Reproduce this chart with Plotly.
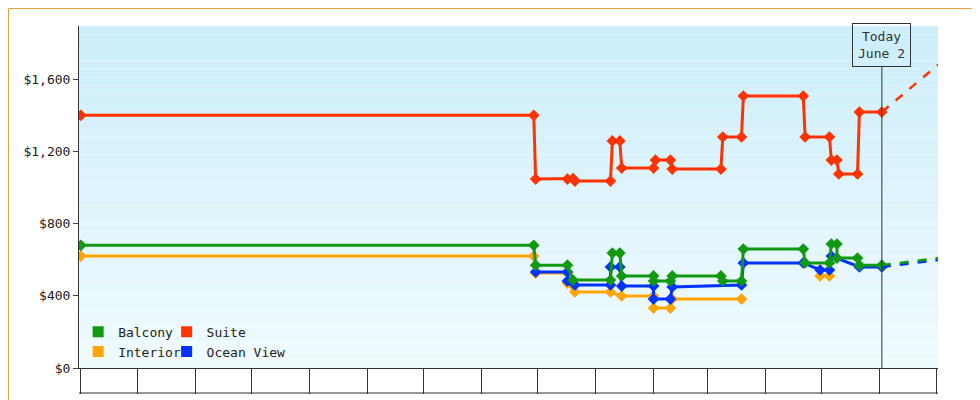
import plotly.graph_objects as go

suite_x = ["2023-04-01","2023-11-29","2023-11-30","2023-12-17","2023-12-20","2023-12-21","2024-01-09","2024-01-10","2024-01-14","2024-01-15","2024-02-01","2024-02-02","2024-02-10","2024-02-11","2024-03-08","2024-03-09","2024-03-19","2024-03-20","2024-04-21","2024-04-22","2024-05-05","2024-05-06","2024-05-09","2024-05-10","2024-05-20","2024-05-21","2024-06-02"]
suite_y = [1400,1400,1047,1047,1050,1036,1036,1258,1258,1108,1108,1152,1152,1102,1102,1280,1280,1507,1507,1280,1280,1152,1152,1075,1075,1418,1418]

balc_x = ["2023-04-01","2023-11-29","2023-11-30","2023-12-17","2023-12-20","2024-01-09","2024-01-10","2024-01-14","2024-01-15","2024-02-01","2024-02-01","2024-02-10","2024-02-11","2024-03-08","2024-03-09","2024-03-19","2024-03-20","2024-04-21","2024-04-22","2024-05-05","2024-05-06","2024-05-09","2024-05-09","2024-05-20","2024-05-21","2024-06-02"]
balc_y = [680,680,570,570,487,487,637,637,510,510,482,482,510,510,482,482,659,659,582,582,687,687,609,609,570,570]

int_x = ["2023-04-01","2023-11-29","2023-11-30","2023-12-17","2023-12-17","2023-12-21","2024-01-09","2024-01-15","2024-02-01","2024-02-01","2024-02-10","2024-02-11","2024-03-19",None,"2024-04-30","2024-05-05"]
int_y = [620,620,526,526,470,421,421,399,399,332,332,382,382,None,510,510]

ocean_x = ["2023-11-30","2023-12-17","2023-12-17","2023-12-21","2024-01-09","2024-01-09","2024-01-14","2024-01-15","2024-02-01","2024-02-01","2024-02-10","2024-02-11","2024-03-19","2024-03-20","2024-04-21","2024-04-30","2024-05-05","2024-05-06","2024-05-21","2024-06-02"]
ocean_y = [532,532,482,460,460,560,560,454,454,382,382,449,460,582,582,543,543,620,560,560]

fc_x = ["2024-06-02","2024-07-02"]
fc_suite = [1418,1680]
fc_balc = [570,609]
fc_ocean = [560,598]

C = {"Balcony":"#119911","Suite":"#ff3300","Interior":"#ffa500","Ocean View":"#0033ff"}

fig = go.Figure()
N = 40
top = (205,238,251); bot = (240,251,254)
shapes = []
for i in range(N):
    t = i/(N-1)
    c = tuple(int(top[k]+(bot[k]-top[k])*t) for k in range(3))
    shapes.append(dict(type="rect", xref="paper", yref="paper", x0=0, x1=1,
                       y0=1-(i+1)/N, y1=1-i/N, fillcolor="rgb(%d,%d,%d)" % c,
                       line=dict(width=0), layer="below"))

def add(name, xs, ys):
    fig.add_trace(go.Scatter(x=xs, y=ys, mode="lines+markers", name=name,
        line=dict(color=C[name], width=3), marker=dict(symbol="diamond", size=9, color=C[name]),
        showlegend=False, connectgaps=False))

add("Interior", int_x, int_y)
add("Ocean View", ocean_x, ocean_y)
add("Balcony", balc_x, balc_y)
add("Suite", suite_x, suite_y)
for name, ys in [("Ocean View", fc_ocean), ("Balcony", fc_balc), ("Suite", fc_suite)]:
    fig.add_trace(go.Scatter(x=fc_x, y=ys, mode="lines", line=dict(color=C[name], width=2.5, dash="dash"),
                             showlegend=False))
for name, lg in [("Balcony","legend"),("Interior","legend"),("Suite","legend2"),("Ocean View","legend2")]:
    fig.add_trace(go.Scatter(x=[None], y=[None], mode="markers", name=name, legend=lg,
        marker=dict(symbol="square", size=11, color=C[name]), showlegend=True))

W = 859; H = 342
shapes.append(dict(type="line", xref="x", yref="paper", x0="2024-06-02", x1="2024-06-02", y0=0, y1=0.88,
                   line=dict(color="#333", width=1)))
shapes.append(dict(type="line", xref="paper", yref="paper", x0=0, x1=1, y0=-25/H, y1=-25/H,
                   line=dict(color="#333", width=1)))
shapes.append(dict(type="rect", xref="paper", yref="paper", x0=-70.5/W, x1=(978.5-71)/W,
                   y0=-39.5/H, y1=1+17.5/H, line=dict(color="#f0a040", width=1)))
fig.update_layout(shapes=shapes)
fig.add_annotation(x="2024-06-02", xref="x", yref="paper", y=0.88, yanchor="bottom",
                   text="Today<br>June 2", showarrow=False, bordercolor="#333", borderwidth=1,
                   borderpad=5, bgcolor="rgba(0,0,0,0)", font=dict(size=13, color="#333"))

fig.update_layout(
    width=980, height=400, margin=dict(l=71, r=50, t=18, b=40),
    paper_bgcolor="white", plot_bgcolor="rgba(0,0,0,0)",
    font=dict(family="DejaVu Sans Mono", size=13, color="#222"),
    xaxis=dict(type="date", range=["2023-03-31","2024-07-02"], dtick="M1", tick0="2023-04-01",
               tickformat="%b", ticklabelmode="period", ticks="outside", ticklen=25, automargin=False,
               tickcolor="#333", showgrid=False, zeroline=False, showline=True, linecolor="#333"),
    yaxis=dict(range=[0,1895], dtick=400, tickprefix="$", tickformat=",", ticks="outside",
               ticklen=5, showgrid=False, zeroline=False, showline=True, linecolor="#333", automargin=False),
    legend=dict(x=-0.001, y=0.15, xanchor="left", yanchor="top", bgcolor="rgba(0,0,0,0)",
                tracegroupgap=0, itemwidth=30, font=dict(size=13)),
    legend2=dict(x=0.102, y=0.15, xanchor="left", yanchor="top", bgcolor="rgba(0,0,0,0)",
                 tracegroupgap=0, itemwidth=30, font=dict(size=13)),
)
fig.write_html("out.html")
